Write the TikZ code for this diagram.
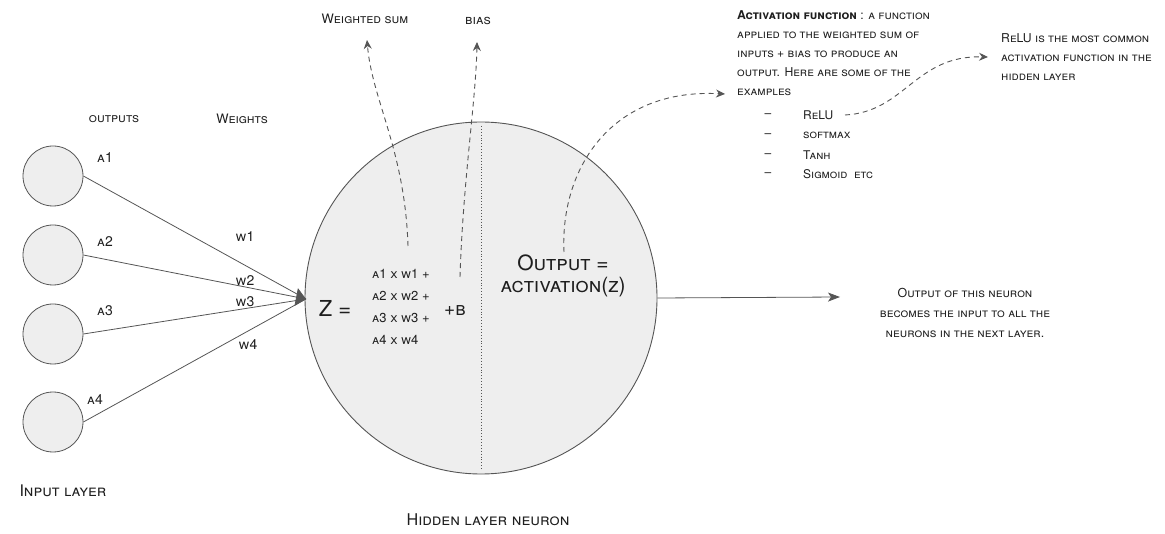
\documentclass[tikz,border=0pt]{standalone}
\usepackage{fontspec}
\setmainfont{TeX Gyre Heros}
\usetikzlibrary{arrows.meta}
\definecolor{ink}{HTML}{555555}
\definecolor{txt}{HTML}{1E1E1E}
\definecolor{cellfill}{HTML}{EEEEEE}
\tikzset{
  lab/.style={inner sep=0pt, text=txt, font=\fontsize{13}{15}\selectfont\scshape},
  small/.style={lab, font=\fontsize{14}{16}\selectfont\scshape},
  item/.style={lab, font=\fontsize{12}{14}\selectfont\scshape},
  para/.style={lab, font=\fontsize{12.2}{19}\selectfont\scshape},
  inode/.style={circle, draw=ink, fill=cellfill, minimum size=60pt, inner sep=0pt, line width=0.8pt},
  wire/.style={draw=ink, line width=0.8pt},
  dashcurve/.style={draw=ink, dashed, dash pattern=on 5pt off 4pt, line width=0.9pt, -{Stealth[length=9pt,width=8pt,inset=3pt]}},
}
\begin{document}
\begin{tikzpicture}[x=1pt,y=-1pt]
\useasboundingbox (0,0) rectangle (1165,534);
% input neurons
\node[inode] (i1) at (53,176) {};
\node[inode] (i2) at (53,255) {};
\node[inode] (i3) at (53,334) {};
\node[inode] (i4) at (53,422) {};
% hidden neuron
\node[circle, draw=ink, fill=cellfill, minimum size=352pt, inner sep=0pt, line width=0.9pt] (h) at (481,298) {};
\coordinate (htop) at (481,126);
\coordinate (hbot) at (481,470);
\draw[ink, dotted, line width=0.9pt] (htop) -- (hbot);
\coordinate (tip) at (306,299);
\draw[wire] (i1.east) -- (tip);
\draw[wire] (i3.east) -- (tip);
\draw[wire] (i4.east) -- (tip);
\draw[wire, -{Triangle[length=10pt,width=18pt]}] (i2.east) -- (tip);
% labels on left
\node[lab] (outs) at (114,119) {outputs};
\node[lab] (wts) at (242,119) {Weights};
\node[small] (a1) at (105,158) {a1};
\node[small] (a2) at (105,242) {a2};
\node[small] (a3) at (105,311) {a3};
\node[small] (a4) at (95,400) {a4};
\node[small] (w1) at (245,237) {w1};
\node[small] (w2) at (245,281) {w2};
\node[small] (w3) at (245,302) {w3};
\node[small] (w4) at (248,345) {w4};
\node[lab, font=\fontsize{16}{18}\selectfont\scshape] (inl) at (63,491) {Input layer};
\node[lab, font=\fontsize{16.2}{18}\selectfont\scshape] (hid) at (488,520) {Hidden layer neuron};
% inside hidden neuron
\node[lab, font=\fontsize{22}{24}\selectfont\scshape] (zeq) at (335,308) {Z =};
\node[lab, anchor=west, align=left, font=\fontsize{13}{22}\selectfont\scshape] (sum) at (372,307) {a1 x w1 +\\a2 x w2 +\\a3 x w3 +\\a4 x w4};
\node[lab, font=\fontsize{19}{21}\selectfont\scshape] (bplus) at (455,311) {+b};
\node[lab, align=center, font=\fontsize{21}{22}\selectfont\scshape] (outeq) at (563,276) {Output =\\activation(z)};
% top labels
\node[lab] (wsum) at (365,19) {Weighted sum};
\node[lab, font=\fontsize{13.5}{15}\selectfont\scshape] (bias) at (478,21) {bias};
% activation description
\node[para, anchor=north west, align=left] (act) at (737,10) {\textbf{Activation function} : a function\\applied to the weighted sum of\\inputs + bias to produce an\\output. Here are some of the\\examples};
\node[item] (d1) at (768,116) {--};
\node[item] (d2) at (768,136) {--};
\node[item] (d3) at (768,156) {--};
\node[item] (d4) at (768,175) {--};
\node[item, anchor=west] (relu) at (803,115) {ReLU};
\node[item, anchor=west] (soft) at (803,135) {softmax};
\node[item, anchor=west] (tanh) at (803,155) {Tanh};
\node[item, anchor=west] (sigm) at (803,174) {Sigmoid\ \ etc};
\node[para, anchor=north west, align=left] (relutxt) at (1001,33) {ReLU is the most common\\activation function in the\\hidden layer};
\node[para, align=center, font=\fontsize{12.4}{20}\selectfont\scshape] (outtxt) at (965,313) {Output of this neuron\\becomes the input to all the\\neurons in the next layer.};
% dashed curves
\coordinate (ws0) at (408,246);
\coordinate (ws1) at (367,40);
\draw[dashcurve] (ws0) .. controls (405,150) and (372,100) .. (ws1);
\coordinate (b0) at (460,277);
\coordinate (b1) at (477,42);
\draw[dashcurve] (b0) .. controls (463,180) and (476,100) .. (b1);
\coordinate (a0) at (564,252);
\coordinate (a1e) at (725,94);
\draw[dashcurve] (a0) .. controls (560,170) and (610,88) .. (a1e);
\coordinate (r0) at (845,115);
\coordinate (r1e) at (988,57);
\draw[dashcurve] (r0) .. controls (905,112) and (915,55) .. (r1e);
% output arrow
\coordinate (oend) at (840,297);
\draw[wire, -{Stealth[length=12pt,width=9pt,inset=3pt]}] (h.east) -- (oend);
\end{tikzpicture}
\end{document}
